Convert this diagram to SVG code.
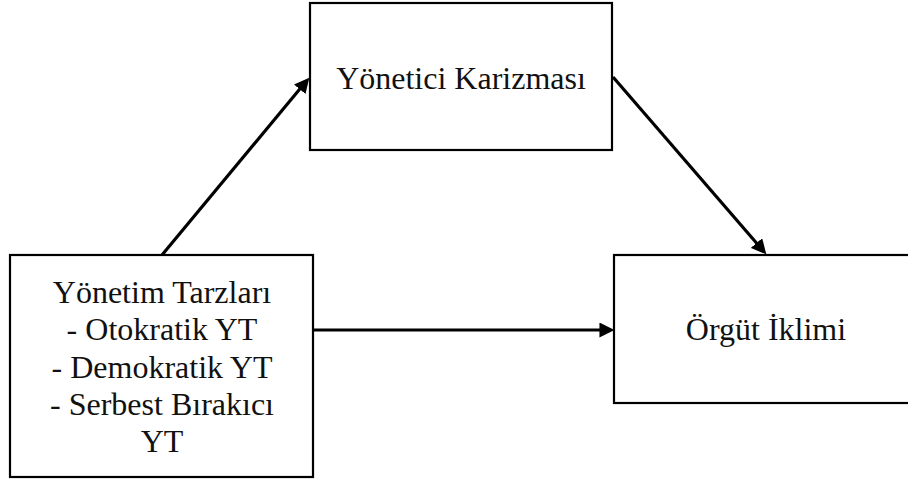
<svg xmlns="http://www.w3.org/2000/svg" width="908" height="482" viewBox="0 0 908 482">
<style>
.box{fill:#fff;stroke:#000;stroke-width:2.2}
.lbl{font-size:32px;fill:#111;text-anchor:middle}
.conn{stroke:#000;stroke-width:3.2;fill:none}
</style>
<defs>
<marker id="ah" markerUnits="userSpaceOnUse" markerWidth="15" markerHeight="15" refX="8" refY="7" orient="auto" viewBox="0 0 14 14">
<path d="M0,0 L14,7 L0,14 z" fill="#000"/>
</marker>
</defs>
<rect width="908" height="482" fill="#fff"/>
<g font-family="Liberation Serif, Times New Roman, DejaVu Serif, serif">
<g id="node-karizma">
<rect class="box" x="310" y="3" width="302" height="147"/>
<text class="lbl" x="461" y="89">Yönetici Karizması</text>
</g>
<g id="node-tarz">
<rect class="box" x="10" y="255" width="303" height="222"/>
<text class="lbl" x="162" y="303">Yönetim Tarzları</text>
<text class="lbl" x="162" y="340">- Otokratik YT</text>
<text class="lbl" x="162" y="377.5">- Demokratik YT</text>
<text class="lbl" x="162" y="414.5">- Serbest Bırakıcı</text>
<text class="lbl" x="162" y="452">YT</text>
</g>
<g id="node-iklim">
<rect class="box" x="614" y="255" width="304" height="148"/>
<text class="lbl" x="766" y="340">Örgüt İklimi</text>
</g>
</g>
<g id="connectors">
<line class="conn" x1="162" y1="255" x2="305.2" y2="82.6" marker-end="url(#ah)"/>
<line class="conn" x1="613" y1="77" x2="762.1" y2="249.5" marker-end="url(#ah)"/>
<line class="conn" x1="313" y1="330" x2="608" y2="330" marker-end="url(#ah)"/>
</g>
</svg>
